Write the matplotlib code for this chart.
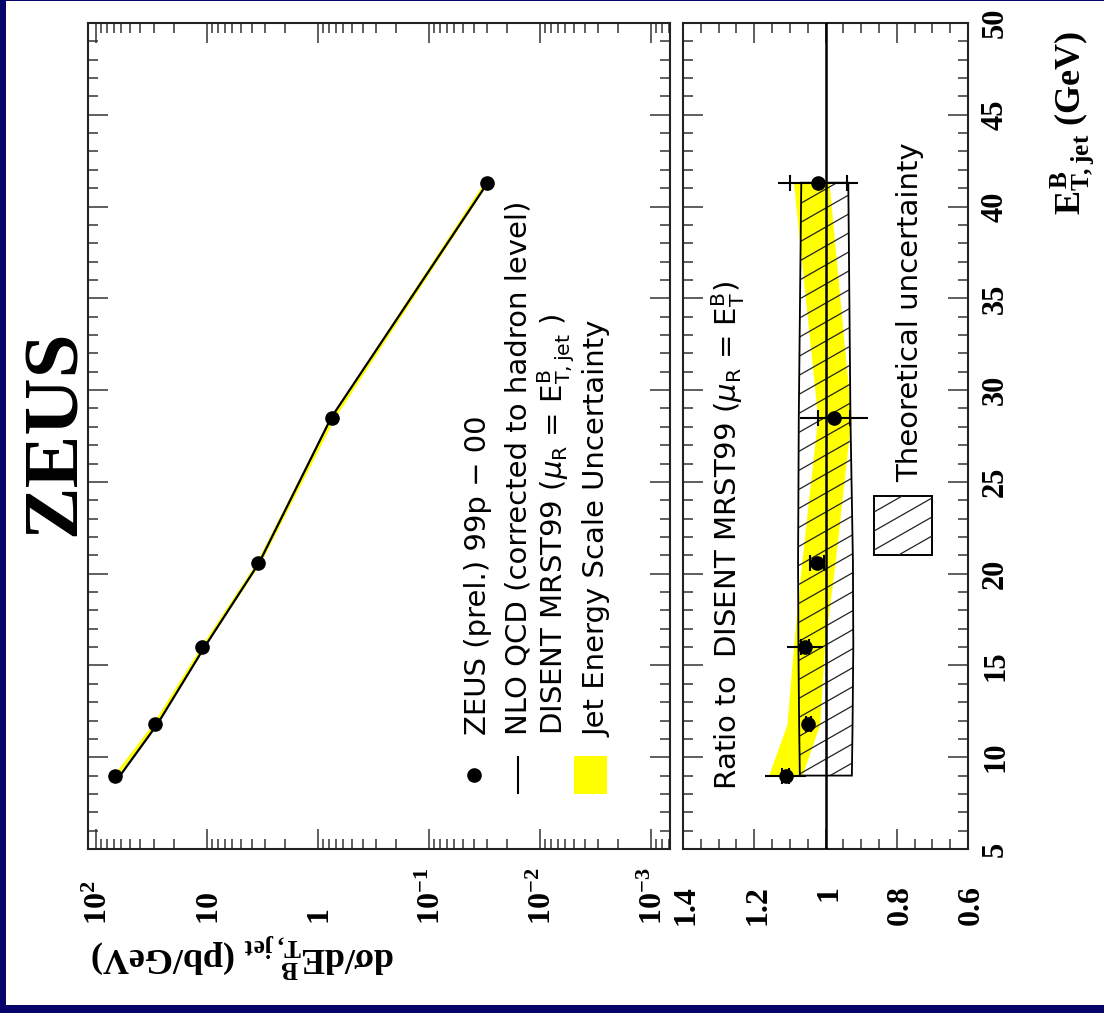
import numpy as np
import matplotlib
matplotlib.use('Agg')
import matplotlib.pyplot as plt
from matplotlib.patches import Polygon, Rectangle
from matplotlib.collections import LineCollection
from matplotlib.lines import Line2D
from matplotlib.transforms import offset_copy, IdentityTransform
from matplotlib.ticker import MultipleLocator, LogLocator, NullFormatter

plt.rcParams['mathtext.fontset'] = 'custom'
plt.rcParams['mathtext.rm'] = 'Liberation Serif:bold'
plt.rcParams['mathtext.it'] = 'Liberation Serif:bold'
plt.rcParams['mathtext.bf'] = 'Liberation Serif:bold'
plt.rcParams['mathtext.sf'] = 'Liberation Serif:bold'

# ---------------- data ----------------
et_bins = [9.0, 11.8, 16.0, 20.6, 28.5, 41.3]
xsec_data = [67.9, 29.6, 11.2, 3.49, 0.748, 0.0304]
xsec_nlo = [61.1, 28.2, 10.6, 3.41, 0.766, 0.0298]
ratio_data = [1.112, 1.048, 1.058, 1.023, 0.976, 1.020]
ratio_err_stat = [0.010, 0.008, 0.012, 0.020, 0.045, 0.080]
ratio_err_tot = [0.058, 0.012, 0.050, 0.020, 0.095, 0.112]
jes_hi = [1.160, 1.108, 1.090, 1.067, 1.022, 1.090]
jes_lo = [1.066, 1.016, 1.003, 0.973, 0.928, 0.990]
theo_hi = [1.072, 1.074, 1.076, 1.077, 1.075, 1.068]
theo_lo = [0.926, 0.924, 0.922, 0.923, 0.930, 0.936]

log_ticks = [1e2, 1e1, 1e0, 1e-1, 1e-2, 1e-3]
log_labels = [r'$10^{2}$', r'$10$', r'$1$', r'$10^{-1}$', r'$10^{-2}$', r'$10^{-3}$']
ratio_ticks = [1.4, 1.2, 1.0, 0.8, 0.6]
ratio_labels = ['1.4', '1.2', '1', '0.8', '0.6']
et_ticks = [5, 10, 15, 20, 25, 30, 35, 40, 45, 50]

# ---------------- figure ----------------
W, H = 1104, 1013
NAVY = '#06066a'
YEL = '#ffff00'
fig = plt.figure(figsize=(W / 100, H / 100), dpi=100)
fig.patch.set_facecolor(NAVY)


def fx(x):
    return x / W


def fy(y):
    return 1 - y / H


fig.add_artist(Rectangle((fx(6), fy(1005)), 1 - fx(6), fy(1) - fy(1005),
                         transform=fig.transFigure, facecolor='white',
                         edgecolor='none', zorder=0))


def px_axes(x0, y0, x1, y1):
    return fig.add_axes([fx(x0), fy(y1), (x1 - x0) / W, (y1 - y0) / H])


ax1 = px_axes(88, 23, 670, 849)
ax2 = px_axes(683, 23, 968, 849)

ax1.set_xscale('log')
ax1.set_xlim(10 ** 2.075, 10 ** -3.168)
ax2.set_xlim(1.4, 0.6)
for ax in (ax1, ax2):
    ax.set_ylim(5, 50)
    ax.yaxis.set_major_locator(MultipleLocator(5))
    ax.yaxis.set_minor_locator(MultipleLocator(1))
    ax.tick_params(which='both', direction='in', top=True, bottom=True,
                   left=True, right=True, labelleft=False, labelbottom=False,
                   width=1.1, color='#333333')
    ax.tick_params(which='major', length=14.5)
    ax.tick_params(which='minor', length=7.5)
    for s in ax.spines.values():
        s.set_linewidth(1.5)
        s.set_color('#222222')
ax1.xaxis.set_major_locator(LogLocator(base=10, numticks=30))
ax1.xaxis.set_minor_locator(LogLocator(base=10, subs=np.arange(2, 10), numticks=30))
ax1.xaxis.set_major_formatter(NullFormatter())
ax1.xaxis.set_minor_formatter(NullFormatter())
ax2.xaxis.set_major_locator(MultipleLocator(0.2))
ax2.xaxis.set_minor_locator(MultipleLocator(0.05))

E = np.array(et_bins)
nlo = np.array(xsec_nlo)
dat = np.array(xsec_data)
rat = np.array(ratio_data)

# ---------------- upper panel ----------------
ax1.fill_betweenx(E, nlo * np.array(jes_lo), nlo * np.array(jes_hi),
                  color=YEL, lw=0, zorder=1)
ax1.plot(nlo, E, color='k', lw=1.6, zorder=2)
ax1.errorbar(dat, E, xerr=dat * np.array(ratio_err_tot) / rat, fmt='o',
             ms=9.5, color='k', elinewidth=1.5, capsize=0, zorder=3)

# ---------------- ratio panel ----------------
ax2.fill_betweenx(E, jes_lo, jes_hi, color=YEL, lw=0, zorder=1)
band = Polygon(np.column_stack([list(theo_hi) + list(theo_lo)[::-1],
                                list(et_bins) + list(et_bins)[::-1]]),
               closed=True, facecolor='none', edgecolor='k', lw=1.3, zorder=3)
ax2.add_patch(band)


def hatch_lines(x0, x1, y0, y1, slope=0.57, step=19.0):
    segs = []
    cmin = y0 - slope * x1 - step
    cmax = y1 - slope * x0 + step
    for c in np.arange(cmin, cmax, step):
        segs.append([(x0, c + slope * x0), (x1, c + slope * x1)])
    return LineCollection(segs, transform=IdentityTransform(),
                          colors='#222222', linewidths=0.9, zorder=2)


lc = hatch_lines(683, 968, H - 849, H - 23)
ax2.add_collection(lc, autolim=False)
lc.set_clip_path(band)

ax2.axvline(1.0, color='k', lw=1.8, zorder=4)
eb = ax2.errorbar(ratio_data, et_bins, xerr=ratio_err_tot, fmt='o', ms=9.5,
                  color='k', elinewidth=1.5, capsize=0, zorder=5)
eb2 = ax2.errorbar(ratio_data, et_bins, xerr=ratio_err_stat, fmt='none',
                   ecolor='k', capsize=6, capthick=1.5, zorder=5)
for b in eb2[2]:
    b.set_visible(False)

# ---------------- tick labels ----------------
serif = dict(family='Liberation Serif', weight='bold')
t_log = offset_copy(ax1.get_xaxis_transform(), fig=fig, x=11, y=0, units='dots')
for t, lab in zip(log_ticks, log_labels):
    ax1.text(t, (849 - 925) / 826, lab, transform=t_log, rotation=90,
             rotation_mode='anchor', ha='left', va='baseline', fontsize=23,
             math_fontfamily='custom', clip_on=False, **serif)
t_rat = offset_copy(ax2.get_xaxis_transform(), fig=fig, x=11, y=0, units='dots')
for t, lab in zip(ratio_ticks, ratio_labels):
    ax2.text(t, (849 - 885) / 826, lab, transform=t_rat, rotation=90,
             rotation_mode='anchor', ha='right', va='baseline', fontsize=23,
             clip_on=False, **serif)
for e in et_ticks:
    ax2.text((1003 - 683) / 285, e, str(e), transform=ax2.get_yaxis_transform(),
             rotation=90, rotation_mode='anchor', ha='center', va='baseline',
             fontsize=22, clip_on=False, **serif)

# ---------------- titles / axis labels ----------------
fig.text(fx(75), fy(433), 'ZEUS', rotation=90, rotation_mode='anchor',
         ha='center', va='baseline', fontsize=57, **serif)
fig.text(fx(1080), fy(123), r'$E^{B}_{T,jet}$ (GeV)', rotation=90,
         rotation_mode='anchor', ha='center', va='baseline', fontsize=26,
         math_fontfamily='custom', **serif)
fig.text(fx(395), fy(948), r'$d\sigma/dE^{B}_{T,jet}$ (pb/GeV)', rotation=180,
         rotation_mode='anchor', ha='left', va='baseline', fontsize=26,
         math_fontfamily='custom', **serif)

# ---------------- legends ----------------
sans = dict(family='DejaVu Sans', fontsize=21, math_fontfamily='dejavusans',
            rotation=90, rotation_mode='anchor', ha='left', va='baseline')
fig.text(fx(486), fy(735), 'ZEUS (prel.) 99p \u2212 00', **sans)
fig.text(fx(526), fy(735), 'NLO QCD (corrected to hadron level)', **sans)
fig.text(fx(563), fy(735),
         r'DISENT MRST99 ($\mu_{\mathrm{R}}$ = $\mathrm{E}^{\mathrm{B}}_{\mathrm{T,jet}}$ )', **sans)
fig.text(fx(605), fy(737), 'Jet Energy Scale Uncertainty', **sans)
fig.text(fx(737), fy(790),
         r'Ratio to  DISENT MRST99 ($\mu_{\mathrm{R}}$ = $\mathrm{E}^{\mathrm{B}}_{\mathrm{T}}$)', **sans)
fig.text(fx(918), fy(482), 'Theoretical uncertainty', **sans)

fig.add_artist(Line2D([fx(474)], [fy(775)], marker='o', ms=9.5, color='k',
                      transform=fig.transFigure))
fig.add_artist(Line2D([fx(518), fx(518)], [fy(757), fy(793)], lw=1.5, color='k',
                      transform=fig.transFigure))
fig.add_artist(Rectangle((fx(574), fy(794)), fx(607) - fx(574), fy(756) - fy(794),
                         transform=fig.transFigure, facecolor=YEL, edgecolor='none'))
box = Rectangle((fx(874), fy(555)), fx(932) - fx(874), fy(496) - fy(555),
                transform=fig.transFigure, facecolor='none', edgecolor='k', lw=1.4)
fig.add_artist(box)
lc2 = hatch_lines(874, 932, H - 555, H - 496)
fig.add_artist(lc2)
lc2.set_clip_path(box)

fig.savefig('out.png', dpi=100, facecolor=fig.get_facecolor())
